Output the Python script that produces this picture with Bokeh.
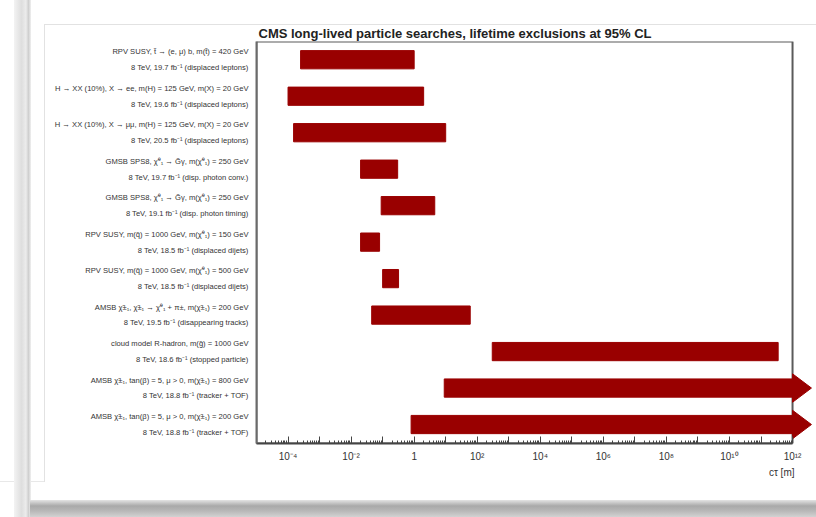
from bokeh.plotting import figure
from bokeh.models import FixedTicker, BoxAnnotation, Range1d, ColumnDataSource, Title
from bokeh.embed import file_html
from bokeh.resources import INLINE

# --- data -------------------------------------------------------------
models = [
    "RPV SUSY, t\u0303 \u2192 (e, \u03bc) b, m(t\u0303) = 420 GeV",
    "H \u2192 XX (10%), X \u2192 ee, m(H) = 125 GeV, m(X) = 20 GeV",
    "H \u2192 XX (10%), X \u2192 \u03bc\u03bc, m(H) = 125 GeV, m(X) = 20 GeV",
    "GMSB SPS8, \u03c7\u0303\u2070\u2081 \u2192 G\u0303\u03b3, m(\u03c7\u0303\u2070\u2081) = 250 GeV",
    "GMSB SPS8, \u03c7\u0303\u2070\u2081 \u2192 G\u0303\u03b3, m(\u03c7\u0303\u2070\u2081) = 250 GeV",
    "RPV SUSY, m(q\u0303) = 1000 GeV, m(\u03c7\u0303\u2070\u2081) = 150 GeV",
    "RPV SUSY, m(q\u0303) = 1000 GeV, m(\u03c7\u0303\u2070\u2081) = 500 GeV",
    "AMSB \u03c7\u0303\u00b1\u2081, \u03c7\u0303\u00b1\u2081 \u2192 \u03c7\u0303\u2070\u2081 + \u03c0\u00b1, m(\u03c7\u0303\u00b1\u2081) = 200 GeV",
    "cloud model R-hadron, m(g\u0303) = 1000 GeV",
    "AMSB \u03c7\u0303\u00b1\u2081, tan(\u03b2) = 5, \u03bc > 0, m(\u03c7\u0303\u00b1\u2081) = 800 GeV",
    "AMSB \u03c7\u0303\u00b1\u2081, tan(\u03b2) = 5, \u03bc > 0, m(\u03c7\u0303\u00b1\u2081) = 200 GeV",
]
conditions = [
    "8 TeV, 19.7 fb\u207b\u00b9 (displaced leptons)",
    "8 TeV, 19.6 fb\u207b\u00b9 (displaced leptons)",
    "8 TeV, 20.5 fb\u207b\u00b9 (displaced leptons)",
    "8 TeV, 19.7 fb\u207b\u00b9 (disp. photon conv.)",
    "8 TeV, 19.1 fb\u207b\u00b9 (disp. photon timing)",
    "8 TeV, 18.5 fb\u207b\u00b9 (displaced dijets)",
    "8 TeV, 18.5 fb\u207b\u00b9 (displaced dijets)",
    "8 TeV, 19.5 fb\u207b\u00b9 (disappearing tracks)",
    "8 TeV, 18.6 fb\u207b\u00b9 (stopped particle)",
    "8 TeV, 18.8 fb\u207b\u00b9 (tracker + TOF)",
    "8 TeV, 18.8 fb\u207b\u00b9 (tracker + TOF)",
]
# excluded c*tau ranges in metres; None = no upper limit within the axis
ctau_low = [2.5e-4, 1e-4, 1.5e-4, 0.02, 0.09, 0.02, 0.1, 0.045, 300.0, 9.0, 0.8]
ctau_high = [1.0, 2.0, 10.0, 0.3, 4.5, 0.08, 0.32, 60.0, 3.5e11, None, None]

decade_ticks = [1e-5, 1e-4, 1e-3, 1e-2, 1e-1, 1.0, 1e1, 1e2, 1e3, 1e4, 1e5,
                1e6, 1e7, 1e8, 1e9, 1e10, 1e11, 1e12]
tick_labels = {1e-4: "10\u207b\u2074", 1e-2: "10\u207b\u00b2", 1.0: "1",
               1e2: "10\u00b2", 1e4: "10\u2074", 1e6: "10\u2076",
               1e8: "10\u2078", 1e10: "10\u00b9\u2070", 1e12: "10\u00b9\u00b2"}

title_text = "CMS long-lived particle searches, lifetime exclusions at 95% CL"
x_title = "c\u03c4 [m]"

# --- layout constants ---------------------------------------------------
X_MIN, X_MAX = 1e-5, 1e12
X_VIEW_END = X_MAX * 10 ** 0.76      # room on the right for the arrow heads
ARROW_TIP = X_MAX * 10 ** 0.6
BAR_RED = "#990000"
FONT = "Liberation Sans"

n = len(models)
rows = [n - i for i in range(n)]
right_edge = [h if h is not None else X_MAX for h in ctau_high]

# page card drawn behind the (transparent) canvas border
card_css = {
    "background-color": "white",
    "background-image": ", ".join([
        "linear-gradient(to bottom, #e4e4e4, #a9a9a9 35%, #b8b8b8 65%, #d2d2d2)",
        "linear-gradient(to right, #f3f3f3, #dedede 45%, #ececec 70%, #cfcfcf 85%, #f0f0f0)",
        "linear-gradient(#e2e2e2, #e2e2e2)",
        "linear-gradient(#e2e2e2, #e2e2e2)",
        "linear-gradient(#e8e8e8, #e8e8e8)",
    ]),
    "background-position": "30px 500px, 14px 0px, 44px 24px, 44px 24px, 0px 481px",
    "background-size": "786px 17px, 17px 517px, 1px 458px, 772px 1px, 44px 1px",
    "background-repeat": "no-repeat",
}

p = figure(width=816, height=517, x_axis_type="log",
           x_range=Range1d(X_MIN, X_VIEW_END), y_range=Range1d(0.48, n + 0.5),
           toolbar_location=None, output_backend="svg",
           min_border_left=256, min_border_right=0, min_border_top=41,
           min_border_bottom=74, styles=card_css)
p.outline_line_color = None
p.grid.visible = False
p.background_fill_color = "white"
p.border_fill_alpha = 0

# title
p.title.text = title_text
p.title.align = "left"
p.title.offset = 2
p.title.standoff = 2
p.title.text_font = FONT
p.title.text_font_size = "13px"
p.title.text_font_style = "bold"
p.title.text_color = "#222222"

# frame box limited to the physical axis range
p.add_layout(BoxAnnotation(left=X_MIN, right=X_MAX, bottom=0.48, top=n + 0.5,
                           fill_alpha=0, line_color="#5a5a5a", line_alpha=1,
                           line_width=2, level="underlay"))

bars = ColumnDataSource(dict(y=rows, left=ctau_low, right=right_edge))
p.hbar(y="y", left="left", right="right", height=0.5, source=bars,
       fill_color=BAR_RED, line_color=BAR_RED)

# arrow heads for searches without an upper bound on the axis
open_rows = [r for r, h in zip(rows, ctau_high) if h is None]
p.patches(xs=[[X_MAX, X_MAX, ARROW_TIP] for _ in open_rows],
          ys=[[r - 0.39, r + 0.39, r] for r in open_rows],
          fill_color=BAR_RED, line_color=BAR_RED)

# x axis
ax = p.xaxis[0]
ax.bounds = (X_MIN, X_MAX)
ax.ticker = FixedTicker(ticks=decade_ticks,
                        minor_ticks=[m * d for d in decade_ticks[:-1] for m in range(2, 10)])
ax.major_label_overrides = {t: tick_labels.get(t, "") for t in decade_ticks}
ax.axis_line_color = "#444444"
ax.axis_line_width = 2
ax.major_tick_in = 7
ax.major_tick_out = 0
ax.minor_tick_in = 3
ax.minor_tick_out = 0
ax.major_tick_line_color = "#444444"
ax.minor_tick_line_color = "#444444"
ax.major_label_text_font = FONT
ax.major_label_text_font_size = "10px"
ax.major_label_text_color = "#333333"
ax.major_label_standoff = 7

# x-axis title, right-aligned near the end of the axis
p.add_layout(Title(text=x_title, align="right", offset=22, standoff=0,
                   text_font=FONT, text_font_size="10px", text_font_style="normal",
                   text_color="#333333"), "below")

# y axis: two-line description of every search
ay = p.yaxis[0]
ay.ticker = FixedTicker(ticks=rows)
ay.major_label_overrides = {r: f"{m}\n{c}" for r, m, c in zip(rows, models, conditions)}
ay.axis_line_color = "#6a6a6a"
ay.axis_line_width = 2
ay.major_tick_in = 0
ay.major_tick_out = 0
ay.minor_tick_line_color = None
ay.major_label_standoff = 8
ay.major_label_text_font = FONT
ay.major_label_text_font_size = "7.6px"
ay.major_label_text_line_height = 1.75
ay.major_label_text_color = "#333333"

open("out.html", "w").write(file_html(p, INLINE))
